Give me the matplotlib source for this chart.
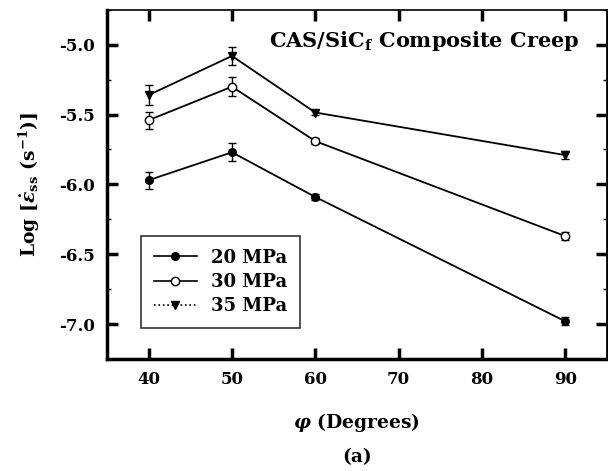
import matplotlib
matplotlib.use("Agg")
import matplotlib.pyplot as plt
from matplotlib.lines import Line2D
from matplotlib.ticker import MultipleLocator

# Data
angles = [40, 50, 60, 90]
labels = ["20 MPa", "30 MPa", "35 MPa"]
rate_20 = [-5.97, -5.77, -6.09, -6.98]
rate_30 = [-5.54, -5.30, -5.69, -6.37]
rate_35 = [-5.36, -5.08, -5.485, -5.79]
err_20 = [0.06, 0.065, 0.02, 0.03]
err_30 = [0.06, 0.068, 0.02, 0.03]
err_35 = [0.07, 0.065, 0.02, 0.03]

plt.rcParams["font.family"] = "DejaVu Serif"
plt.rcParams["font.weight"] = "bold"
plt.rcParams["mathtext.fontset"] = "dejavuserif"

fig = plt.figure(figsize=(6.08, 4.71), dpi=100)
ax = fig.add_axes([0.176, 0.238, 0.822, 0.741])

styles = [
    dict(marker="o", mfc="black", mec="black", ms=5.5),
    dict(marker="o", mfc="white", mec="black", ms=6),
    dict(marker="v", mfc="black", mec="black", ms=6),
]
series = [(rate_20, err_20), (rate_30, err_30), (rate_35, err_35)]
for (vals, errs), st in zip(series, styles):
    ax.errorbar(angles, vals, yerr=errs, color="black", lw=1.3,
                capsize=3, elinewidth=1, capthick=1, zorder=3, **st)

ax.set_xlim(35, 95)
ax.set_ylim(-7.25, -4.75)
ax.set_xticks([40, 50, 60, 70, 80, 90])
ax.set_yticks([-5.0, -5.5, -6.0, -6.5, -7.0])
ax.set_yticklabels(["-5.0", "-5.5", "-6.0", "-6.5", "-7.0"])
ax.yaxis.set_minor_locator(MultipleLocator(0.25))
ax.tick_params(which="major", direction="in", length=8, width=2.5,
               top=True, right=True, labelsize=12, pad=9)
ax.tick_params(which="minor", direction="in", length=3, width=1,
               left=True, right=True)
for s in ["left", "bottom"]:
    ax.spines[s].set_linewidth(2.5)
ax.spines["right"].set_linewidth(2)
ax.spines["top"].set_linewidth(1.2)

ax.text(0.946, 0.91, r"CAS/SiC$_\mathbf{f}$ Composite Creep", transform=ax.transAxes,
        ha="right", va="center", fontsize=15, fontweight="bold")

ax.set_xlabel(r"$\varphi$ (Degrees)", fontsize=13.5, fontweight="bold", labelpad=16)
ax.set_ylabel(r"Log [$\dot{\varepsilon}_{\mathbf{ss}}$ (s$^{\mathbf{-1}}$)]",
              fontsize=13.5, fontweight="bold", labelpad=12)
fig.text(0.588, 0.03, "(a)", ha="center", va="center", fontsize=13.5, fontweight="bold")

handles = [
    Line2D([], [], color="black", lw=1.2, marker="o", mfc="black", mec="black", ms=5.5),
    Line2D([], [], color="black", lw=1.2, marker="o", mfc="white", mec="black", ms=6),
    Line2D([], [], color="black", lw=1.2, ls=":", marker="v", mfc="black", mec="black", ms=6),
]
leg = ax.legend(handles, labels, loc="lower left", bbox_to_anchor=(0.068, 0.089),
                borderaxespad=0, fontsize=13, frameon=True, fancybox=False,
                edgecolor="black", handlelength=2.4, borderpad=0.7,
                labelspacing=0.35, handletextpad=0.8)
leg.get_frame().set_linewidth(1.2)

fig.savefig("out.png", dpi=100)
